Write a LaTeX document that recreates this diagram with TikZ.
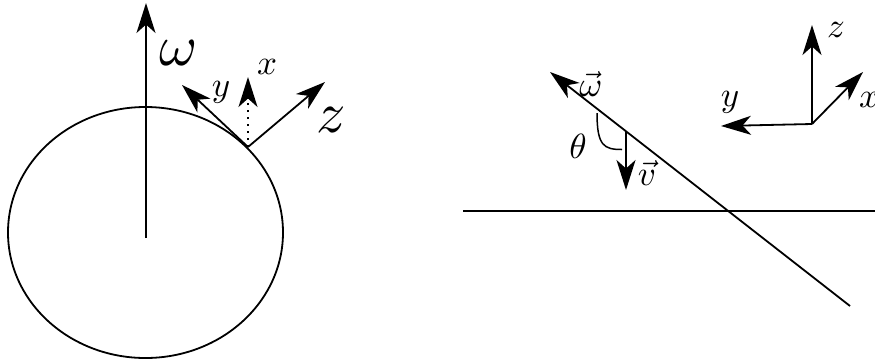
\documentclass[tikz,border=0pt]{standalone}
\usetikzlibrary{arrows.meta}
\begin{document}
\begin{tikzpicture}[x=1pt,y=-1pt,
  line width=1.8pt,
  arr/.style={-{Stealth[length=30pt,width=19pt,inset=8.5pt]}},
  sml/.style={inner sep=0pt,scale=3.5},
  big/.style={inner sep=0pt,scale=5.8}]
\useasboundingbox (0,0) rectangle (875,360);
% ---------- left ----------
\draw (145.5,232.5) ellipse [x radius=137.5, y radius=125.5];
\coordinate (c) at (146,238);
\coordinate (wt) at (146,3);
\coordinate (b) at (248,147);
\coordinate (yt) at (182,85);
\coordinate (xt) at (248,77);
\coordinate (zt) at (325,82);
\draw[arr] (c) -- (wt);
\draw[arr] (b) -- (yt);
\draw[arr] (b) -- (zt);
\draw[arr,dash pattern=on 1.8pt off 5.2pt] (b) -- (xt);
\node[big] (lw) at (179,53) {$\omega$};
\node[sml] (lx) at (267,67) {$x$};
\node[sml] (ly) at (221,92) {$y$};
\node[big] (lz) at (331,120) {$z$};
% ---------- right ----------
\coordinate (h1) at (463,211);
\coordinate (h2) at (875,211);
\draw (h1) -- (h2);
\coordinate (we) at (850,306);
\coordinate (wtip) at (550,72);
\draw[arr] (we) -- (wtip);
\coordinate (v0) at (626,131);
\coordinate (v1) at (626,190);
\draw[arr] (v0) -- (v1);
\coordinate (a0) at (597,113);
\coordinate (a1) at (622,149.5);
\draw[line width=1.5pt] (a0) .. controls (597,146) and (604,149.5) .. (a1);
\node[sml] (lvw) at (591,84) {$\vec\omega$};
\node[sml] (lv) at (647,173) {$\vec v$};
\node[sml] (lth) at (578,146) {$\theta$};
% frame
\coordinate (o) at (812,124);
\coordinate (rz) at (812,25);
\coordinate (rx) at (863,72);
\coordinate (ry) at (721,126);
\draw[arr] (o) -- (rz);
\draw[arr] (o) -- (rx);
\draw[arr] (o) -- (ry);
\node[sml] (rlz) at (836,30) {$z$};
\node[sml] (rlx) at (869,100) {$x$};
\node[sml] (rly) at (730,102) {$y$};
\end{tikzpicture}
\end{document}
